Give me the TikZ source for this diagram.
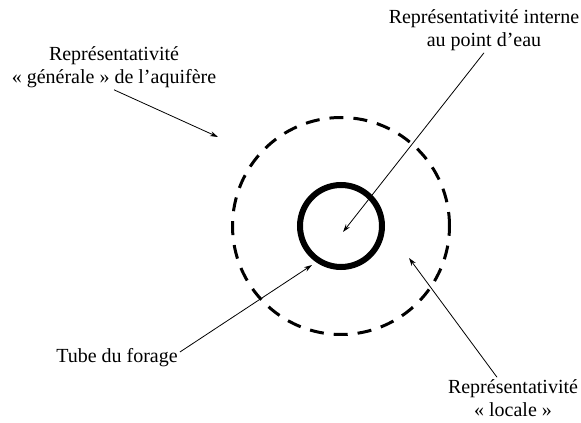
\documentclass[tikz,border=0pt]{standalone}
\usepackage{fontspec}
\setmainfont{Liberation Serif}
\usetikzlibrary{arrows.meta}
\begin{document}
\begin{tikzpicture}[x=1pt,y=1pt,
        fleche/.style={line width=0.8pt,-{Stealth[length=8pt,width=5pt]}},
        etiquette/.style={align=center,inner sep=2pt,font=\fontsize{20}{23}\selectfont}]
            \useasboundingbox (0,0) rectangle (581,423);

            \draw[line width=3pt,dash pattern=on 14pt off 10pt] (341,197) circle (108.5);
            \draw[line width=6pt] (341,197) circle (41);

            \node[etiquette] (generale) at (114,356) {Représentativité\\« générale » de l’aquifère};
            \node[etiquette] (interne) at (484,393) {Représentativité interne\\au point d’eau};
            \node[etiquette] (tube) at (117,65) {Tube du forage};
            \node[etiquette] (locale) at (513,25) {Représentativité\\« locale »};

            \coordinate (bout generale) at (218,286);
            \coordinate (bout interne) at (343,191);
            \coordinate (bout tube) at (312,158);
            \coordinate (bout locale) at (409,165);

            \draw[fleche] (generale.south) -- (bout generale);
            \draw[fleche] (interne.south) -- (bout interne);
            \draw[fleche] ([yshift=6pt]tube.east) -- (bout tube);
            \draw[fleche] ([xshift=-16pt]locale.north) -- (bout locale);
        \end{tikzpicture}
\end{document}
